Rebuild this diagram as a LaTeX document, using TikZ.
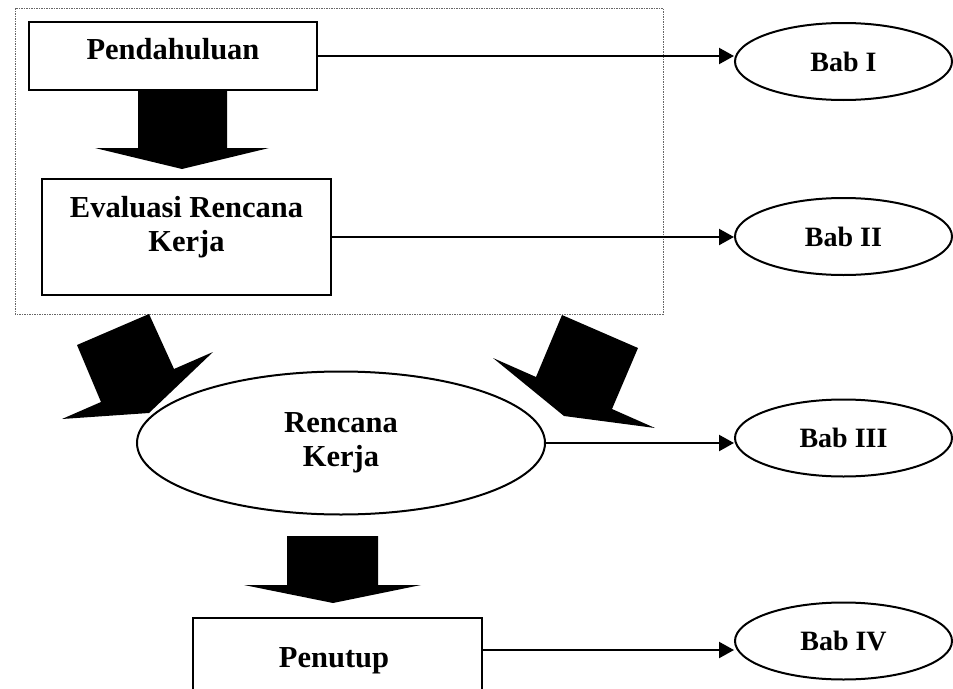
\documentclass[tikz,border=0pt]{standalone}
\usepackage{fontspec}
\setmainfont{Liberation Serif}
\usetikzlibrary{shapes.geometric,arrows.meta}

\begin{document}
\begin{tikzpicture}[x=1pt, y=-1pt,
            kotak/.style={draw, line width=2.2pt, minimum width=289pt},
            lonjong/.style={draw, ellipse, line width=2pt},
            bab/.style={lonjong, minimum width=217pt, minimum height=77pt,
                font=\bfseries\fontsize{28}{32}\selectfont},
            tulisan/.style={align=center, font=\bfseries\fontsize{30.5}{34}\selectfont},
            panah/.style={line width=2.2pt, -{Triangle[length=15pt, width=16pt]}},
            blok/.style={fill=black},
            bingkai/.style={draw=black!60, line width=0.9pt, dash pattern=on 2pt off 1pt on 1pt off 1pt}]
            \useasboundingbox ( 0, 0 ) rectangle ( 953, 688 );
            \clip ( 0, 0 ) rectangle ( 953, 688 );

% bingkai titik-titik
            \draw [bingkai] ( 15, 8 ) rectangle ( 663, 314 );

% kotak
            \node [kotak, minimum width=288pt, minimum height=68pt] (pend) at ( 173, 56 ) {};
            \node [tulisan, anchor=base] (pendteks) at ( 173, 59 ) {Pendahuluan};
            \node [kotak, minimum height=116pt] (eval) at ( 186.5, 237 ) {};
            \node [tulisan] (evalteks) at ( 186.5, 227 ) {Evaluasi Rencana\\Kerja};
            \node [kotak, minimum height=116pt, anchor=north] (tutup) at ( 337.5, 617 ) {};
            \node [tulisan, anchor=base] (tutupteks) at ( 334, 667 ) {Penutup};

% lonjong
            \node [lonjong, tulisan, minimum width=408pt, minimum height=143pt] (renc) at ( 341, 443 ) {Rencana\\Kerja};
            \node [bab] (bab1) at ( 843.5, 61.5 ) {Bab I};
            \node [bab] (bab2) at ( 843.5, 236.5 ) {Bab II};
            \node [bab] (bab3) at ( 843.5, 438 ) {Bab III};
            \node [bab] (bab4) at ( 843.5, 641 ) {Bab IV};

% panah
            \coordinate (tutupkanan) at ([yshift=-33pt]tutup.north east);
            \draw [panah] (pend.east) -- (pend.east -| bab1.west);
            \draw [panah] (eval.east) -- (eval.east -| bab2.west);
            \draw [panah] (renc.east) -- (renc.east -| bab3.west);
            \draw [panah] (tutupkanan) -- (tutupkanan -| bab4.west);

% panah besar
            \fill [blok] ( 138, 90 ) -- ( 227, 90 ) -- ( 227, 148 ) -- ( 269, 148 ) -- ( 182, 169 ) -- ( 95, 148 ) -- ( 138, 148 ) -- cycle;
            \fill [blok] ( 77, 345 ) -- ( 149, 314 ) -- ( 174, 369 ) -- ( 213, 352 ) -- ( 149, 413 ) -- ( 62, 419 ) -- ( 101, 402 ) -- cycle;
            \fill [blok] ( 562, 315 ) -- ( 638, 348 ) -- ( 612, 409 ) -- ( 655, 428 ) -- ( 564, 416 ) -- ( 493, 358 ) -- ( 536, 377 ) -- cycle;
            \fill [blok] ( 287, 536 ) -- ( 378, 536 ) -- ( 378, 585 ) -- ( 421, 585 ) -- ( 333, 603 ) -- ( 244, 585 ) -- ( 287, 585 ) -- cycle;
        \end{tikzpicture}
\end{document}
